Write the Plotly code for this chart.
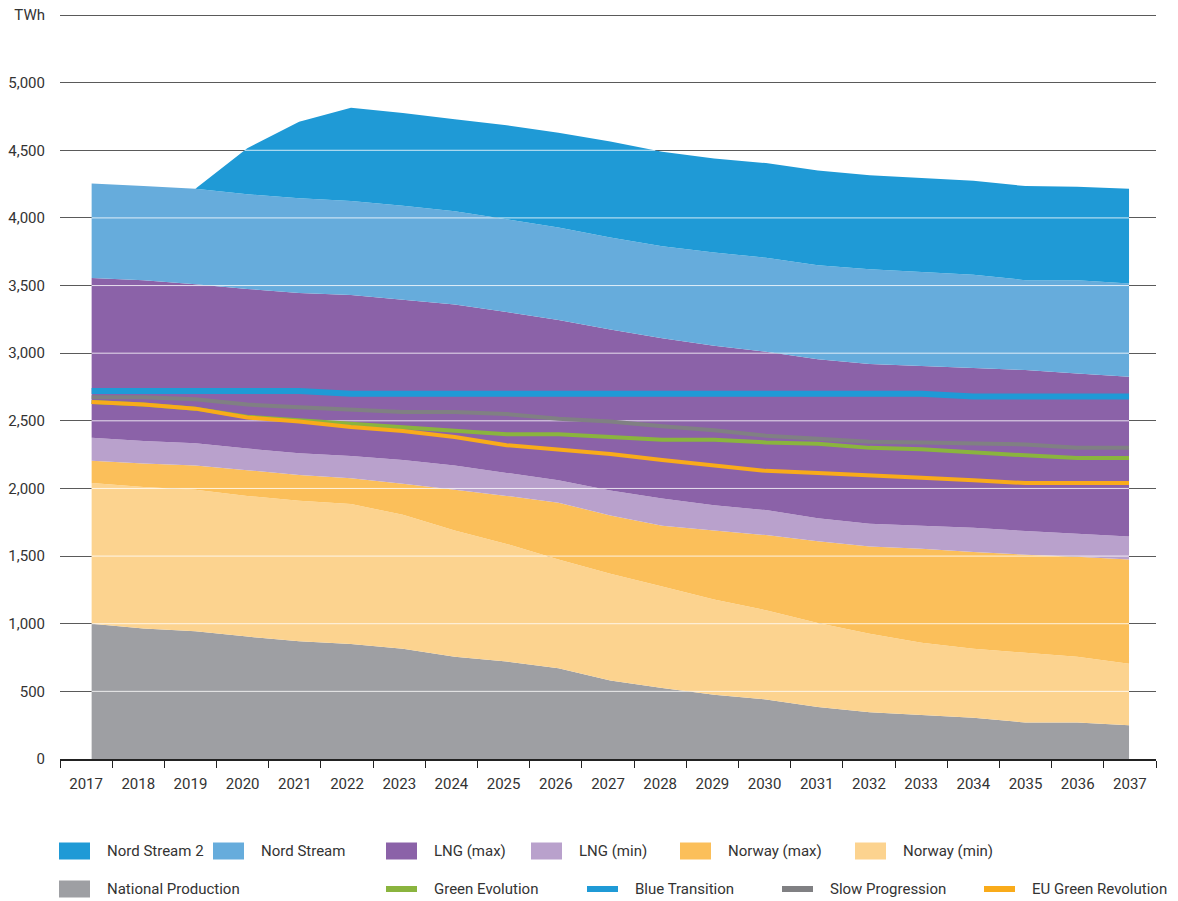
import plotly.graph_objects as go

# years on the x axis
years = list(range(2017, 2038))

# supply stack (TWh), bottom to top
national_production = [1000, 965, 945, 905, 870, 850, 815, 755, 720, 670, 580, 525, 475, 440, 385, 345, 325, 305, 270, 270, 250]
norway_min = [1040, 1045, 1045, 1040, 1040, 1035, 990, 935, 870, 805, 790, 750, 705, 660, 620, 580, 535, 510, 515, 485, 455]
norway_max = [165, 175, 180, 190, 190, 190, 230, 300, 355, 420, 430, 450, 510, 555, 605, 645, 695, 715, 725, 740, 770]
lng_min = [170, 165, 165, 160, 160, 165, 175, 180, 170, 165, 185, 200, 185, 185, 170, 170, 170, 180, 175, 170, 170]
lng_max = [1180, 1190, 1175, 1180, 1185, 1190, 1185, 1190, 1190, 1185, 1190, 1185, 1180, 1170, 1175, 1180, 1180, 1180, 1190, 1185, 1180]
nord_stream = [700, 695, 705, 700, 700, 695, 695, 690, 685, 685, 680, 680, 690, 695, 695, 700, 695, 690, 665, 690, 690]
nord_stream_2 = [0, 0, 0, 340, 565, 690, 685, 680, 695, 700, 710, 700, 695, 700, 700, 695, 695, 695, 695, 690, 700]

# demand scenarios (TWh)
green_evolution = [2640, 2620, 2590, 2530, 2505, 2480, 2450, 2425, 2400, 2400, 2380, 2360, 2360, 2340, 2330, 2300, 2290, 2265, 2245, 2225, 2225]
blue_transition = [2720, 2720, 2720, 2720, 2720, 2700, 2700, 2700, 2700, 2700, 2700, 2700, 2700, 2700, 2700, 2700, 2700, 2680, 2680, 2680, 2680]
slow_progression = [2675, 2675, 2660, 2620, 2600, 2585, 2565, 2565, 2550, 2515, 2495, 2460, 2430, 2390, 2365, 2345, 2340, 2330, 2325, 2300, 2300]
eu_green_revolution = [2640, 2620, 2590, 2525, 2495, 2455, 2425, 2380, 2320, 2290, 2255, 2210, 2170, 2130, 2115, 2100, 2080, 2060, 2040, 2040, 2040]

y_ticks = list(range(0, 5501, 500))
y_ticktext = [f"{v:,}" for v in y_ticks[:-1]] + ["TWh"]

areas = [
    ("National Production", national_production, "#9e9fa3"),
    ("Norway (min)", norway_min, "#fcd38f"),
    ("Norway (max)", norway_max, "#fbbf5a"),
    ("LNG (min)", lng_min, "#b9a1cc"),
    ("LNG (max)", lng_max, "#8b62a8"),
    ("Nord Stream", nord_stream, "#66acdc"),
    ("Nord Stream 2", nord_stream_2, "#1f9ad6"),
]
lines = [
    ("Green Evolution", green_evolution, "#8ab43e", 4),
    ("Blue Transition", blue_transition, "#1f9ad6", 6),
    ("Slow Progression", slow_progression, "#808083", 4),
    ("EU Green Revolution", eu_green_revolution, "#f9ab1a", 4),
]
colors = {n: c for n, _, c in areas}
colors.update({n: c for n, _, c, _ in lines})

FONT = "Roboto, Liberation Sans, sans-serif"
TXT = "#333333"

fig = go.Figure()
for name, vals, col in areas:
    fig.add_trace(go.Scatter(x=years, y=vals, name=name, stackgroup="supply",
                             mode="none", fillcolor=col, showlegend=False))

# white grid lines over the filled part only
totals = [sum(v) for v in zip(*[a[1] for a in areas])]


def covered(level):
    segs, start = [], (years[0] if totals[0] >= level else None)
    for i in range(1, len(years)):
        a, b = totals[i - 1], totals[i]
        if (a >= level) != (b >= level):
            xc = years[i - 1] + (level - a) / (b - a)
            if start is None:
                start = xc
            else:
                segs.append((start, xc))
                start = None
    if start is not None:
        segs.append((start, years[-1]))
    return segs


gx, gy = [], []
for lvl in y_ticks[1:-1]:
    for x0, x1 in covered(lvl):
        gx += [x0, x1, None]
        gy += [lvl, lvl, None]
fig.add_trace(go.Scatter(x=gx, y=gy, mode="lines", line=dict(color="rgba(255,255,255,0.8)", width=1),
                         hoverinfo="skip", showlegend=False))

for name, vals, col, w in lines:
    fig.add_trace(go.Scatter(x=years, y=vals, name=name, mode="lines",
                             line=dict(color=col, width=w), showlegend=False))

# x bands: labels centred between tick marks
x_lo, x_hi = 2016.39, 2037.52
step = (x_hi - x_lo) / len(years)
bounds = [x_lo + k * step for k in range(len(years) + 1)]
centers = [x_lo + (k + 0.5) * step for k in range(len(years))]

fig.update_xaxes(range=[x_lo, x_hi], tickvals=centers, ticktext=[str(y) for y in years],
                 ticks="outside", ticklen=10, tickcolor="rgba(0,0,0,0)", automargin=False,
                 minor=dict(tickvals=bounds, ticks="outside", ticklen=7, tickcolor="#222222",
                            tickwidth=1, showgrid=False),
                 showgrid=False, zeroline=False, showline=True, linecolor="#222222", linewidth=1.5,
                 tickfont=dict(family=FONT, size=15, color=TXT))

W, H = 1178, 901
L, R, T, B = 60, 22, 12, 142
pw, ph = W - L - R, H - T - B
y_top = y_ticks[-1] * ph / (ph - 3)  # a little headroom so the top grid line is drawn

fig.update_yaxes(range=[0, y_top], tickvals=y_ticks, ticktext=y_ticktext,
                 ticks="outside", ticklen=11, tickcolor="rgba(0,0,0,0)", automargin=False,
                 showgrid=True, gridcolor="#5a5a5a", gridwidth=1, zeroline=False,
                 tickfont=dict(family=FONT, size=15, color=TXT))


def px(x):
    return (x - L) / pw


def py(y):
    return (H - B - y) / ph


# legend drawn as swatches + text (positions in page pixels)
legend_rows = [
    (851, [("Nord Stream 2", 59, "area"), ("Nord Stream", 213, "area"), ("LNG (max)", 386, "area"),
           ("LNG (min)", 531, "area"), ("Norway (max)", 680, "area"), ("Norway (min)", 855, "area")]),
    (889, [("National Production", 59, "area"), ("Green Evolution", 386, "line"),
           ("Blue Transition", 587, "line"), ("Slow Progression", 782, "line"),
           ("EU Green Revolution", 984, "line")]),
]
for yc, items in legend_rows:
    for name, x0, kind in items:
        hh = 8.5 if kind == "area" else 3
        fig.add_shape(type="rect", xref="paper", yref="paper", x0=px(x0), x1=px(x0 + 31),
                      y0=py(yc - hh), y1=py(yc + hh), fillcolor=colors[name], line_width=0)
        fig.add_annotation(xref="paper", yref="paper", x=px(x0 + 46), y=py(yc), text=name,
                           showarrow=False, xanchor="left", yanchor="middle",
                           font=dict(family=FONT, size=15, color=TXT))

fig.update_layout(width=W, height=H, margin=dict(l=L, r=R, t=T, b=B, autoexpand=False),
                  plot_bgcolor="white", paper_bgcolor="white", showlegend=False,
                  font=dict(family=FONT, color=TXT))
# drop the browser's default 8px body margin so the figure sits at the page corner
fig.write_html("out.html", config={"displayModeBar": False},
               post_script="document.body.style.margin='0';")
